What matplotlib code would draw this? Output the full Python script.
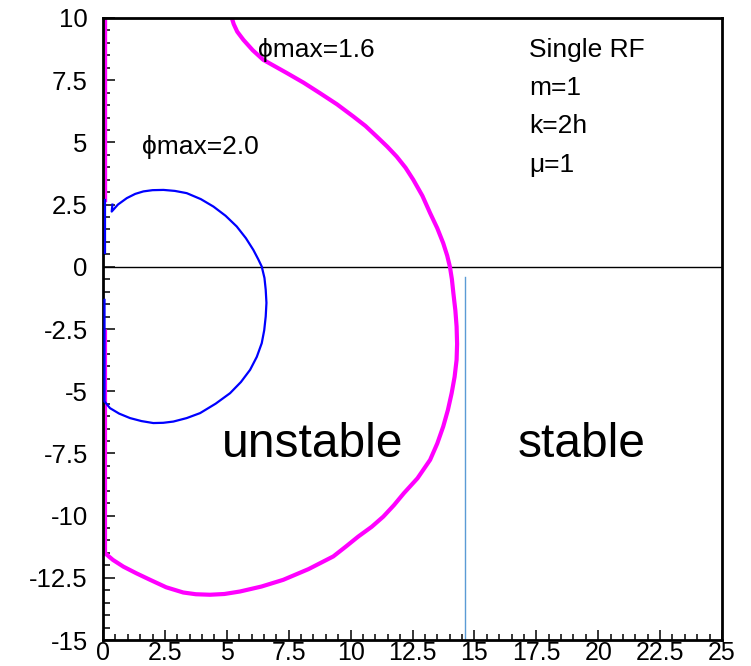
import matplotlib
matplotlib.use("Agg")
import matplotlib.pyplot as plt
from matplotlib.ticker import MultipleLocator, FuncFormatter

plt.rcParams['font.family'] = ['Liberation Sans', 'DejaVu Sans']
plt.rcParams['axes.unicode_minus'] = False

# phi_max = 1.6 boundary (outer curve, then back up the left edge)
mag_x = [5.20, 5.28, 5.42, 5.67, 6.05, 6.47, 6.90, 7.42, 8.10, 8.76, 9.45,
         10.11, 10.60, 11.05, 11.48, 11.86, 12.22, 12.53, 12.90, 13.21, 13.50,
         13.74, 13.90, 14.01, 14.09, 14.15, 14.23, 14.28, 14.30, 14.28, 14.20,
         14.08, 13.93, 13.74, 13.50, 13.21, 12.70, 12.15, 11.75, 11.32, 10.85,
         10.31, 9.80, 9.30, 8.30, 7.28, 6.40, 5.53, 4.90, 4.32, 3.75, 3.24,
         2.55, 1.90, 1.35, 0.82, 0.40, 0.08, 0.08]
mag_y = [10.00, 9.75, 9.45, 9.12, 8.70, 8.32, 8.08, 7.79, 7.40, 6.98, 6.53,
         6.04, 5.66, 5.24, 4.83, 4.43, 3.98, 3.50, 2.85, 2.16, 1.55,
         0.95, 0.45, 0.00, -0.50, -1.06, -1.75, -2.40, -3.10, -3.74, -4.42,
         -5.08, -5.75, -6.42, -7.10, -7.76, -8.50, -9.10, -9.58, -10.04, -10.45,
         -10.84, -11.25, -11.64, -12.15, -12.58, -12.85, -13.05, -13.15, -13.18,
         -13.16, -13.09, -12.88, -12.58, -12.32, -12.05, -11.78, -11.51, -2.60]
mag_top_x = [0.08, 0.08]
mag_top_y = [10.0, 2.70]

# phi_max = 2.0 boundary
blue_x = [0.38, 0.35, 0.60, 0.96, 1.30, 1.63, 2.00, 2.44, 2.90, 3.38, 3.95,
          4.46, 4.95, 5.40, 5.77, 6.07, 6.27, 6.41, 6.52, 6.57, 6.60, 6.57,
          6.51, 6.41, 6.21, 5.94, 5.57, 5.13, 4.55, 3.92, 3.38, 2.84, 2.43,
          2.03, 1.55, 1.09, 0.65, 0.28, 0.06, 0.06]
blue_y = [2.50, 2.22, 2.50, 2.76, 2.93, 3.03, 3.08, 3.09, 3.05, 2.96, 2.72,
          2.42, 2.05, 1.62, 1.15, 0.68, 0.30, 0.01, -0.45, -0.92, -1.45, -2.00,
          -2.55, -3.07, -3.62, -4.14, -4.63, -5.08, -5.50, -5.88, -6.08, -6.22,
          -6.27, -6.28, -6.20, -6.08, -5.90, -5.68, -5.41, -1.33]
blue_top_x = [0.06, 0.06]
blue_top_y = [0.56, 2.69]

# stability limit
limit_x = 14.62
limit_y = [-0.39, -15.0]

fig = plt.figure(figsize=(7.51, 6.66), dpi=100, facecolor='white')
ax = fig.add_axes([0.1372, 0.039, 0.8242, 0.934])

ax.axhline(0, color='black', linewidth=1.0, zorder=1)
ax.plot(blue_top_x, blue_top_y, color='#0000ff', linewidth=1.6, zorder=3)
ax.plot(blue_x, blue_y, color='#0000ff', linewidth=1.6, zorder=3,
        solid_joinstyle='round')
ax.plot(mag_top_x, mag_top_y, color='#ff00ff', linewidth=2.4, zorder=2)
ax.plot(mag_x, mag_y, color='#ff00ff', linewidth=3.0, zorder=2,
        solid_joinstyle='round')
ax.plot([limit_x, limit_x], limit_y, color='#5b9bd5', linewidth=1.0,
        zorder=2)

ax.set_xlim(0, 25)
ax.set_ylim(-15, 10)

fmt = FuncFormatter(lambda v, p: '%g' % v)
for axis in (ax.xaxis, ax.yaxis):
    axis.set_major_locator(MultipleLocator(2.5))
    axis.set_minor_locator(MultipleLocator(0.5))
    axis.set_major_formatter(fmt)

ax.tick_params(axis='both', which='both', direction='in', colors='black',
               width=1.1, labelsize=18.5)
ax.tick_params(axis='y', which='major', length=8.5, pad=11)
ax.tick_params(axis='y', which='minor', length=5)
ax.tick_params(axis='x', which='major', length=7.2, pad=0.5, labelsize=18)
ax.tick_params(axis='x', which='minor', length=4)

for s in ax.spines.values():
    s.set_linewidth(2.0)

ax.text(1.56, 4.53, 'ϕmax=2.0', fontsize=19)
ax.text(6.27, 8.45, 'ϕmax=1.6', fontsize=19)
info = ['Single RF', 'm=1', 'k=2h', 'μ=1']
for i, line in enumerate(info):
    ax.text(17.22, 8.45 - 1.54 * i, line, fontsize=19)

ax.text(4.8, -7.64, 'unstable', fontsize=34.5)
ax.text(16.76, -7.64, 'stable', fontsize=34.5)

fig.savefig('out.png', dpi=100)
